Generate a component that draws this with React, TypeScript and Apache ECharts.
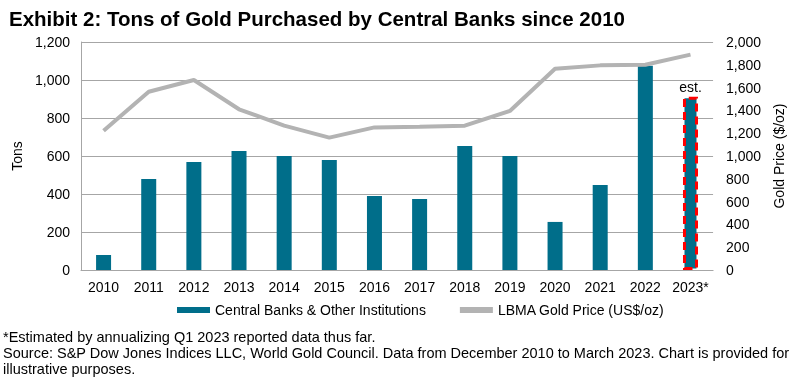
import React, { useEffect, useRef } from "react";
import * as echarts from "echarts";

const categories = ["2010", "2011", "2012", "2013", "2014", "2015", "2016", "2017", "2018", "2019", "2020", "2021", "2022", "2023*"];
const centralBankTons = [79, 479, 568, 626, 600, 579, 389, 374, 653, 600, 253, 447, 1075, 912];
const goldPrice = [1222, 1564, 1667, 1410, 1266, 1161, 1251, 1257, 1266, 1395, 1766, 1795, 1801, 1889];
const leftTicks = { min: 0, max: 1200, interval: 200 };
const rightTicks = { min: 0, max: 2000, interval: 200 };
const titleText = "Exhibit 2: Tons of Gold Purchased by Central Banks since 2010";
const footnotes = [
  "*Estimated by annualizing Q1 2023 reported data thus far.",
  "Source: S&P Dow Jones Indices LLC, World Gold Council. Data from December 2010 to March 2023. Chart is provided for",
  "illustrative purposes.",
];
const barName = "Central Banks & Other Institutions";
const lineName = "LBMA Gold Price (US$/oz)";
const estLabel = "est.";

const FONT = "'Liberation Sans', Arial, sans-serif";

export default function App() {
  const ref = useRef<HTMLDivElement>(null);
  useEffect(() => {
    if (!ref.current) return;
    const chart = echarts.init(ref.current, null, { renderer: "svg" });
    const fmt = (v: number) => v.toLocaleString("en-US");
    const barData = centralBankTons.map((v, i) =>
      i === centralBankTons.length - 1
        ? {
            value: v,
            itemStyle: {
              color: "#006E8A",
              borderColor: "#FF0000",
              borderWidth: 3,
              borderType: [8, 5],
            },
            label: {
              show: true,
              position: "top",
              distance: 3,
              formatter: estLabel,
              color: "#000",
              fontSize: 14,
              fontFamily: FONT,
            },
          }
        : v
    );
    chart.setOption({
      animation: false,
      textStyle: { fontFamily: FONT },
      title: {
        text: titleText,
        left: 4,
        top: 3,
        textStyle: { fontSize: 20.5, fontWeight: "bold", color: "#000", fontFamily: FONT },
      },
      grid: { left: 81, right: 73, top: 42, bottom: 115, containLabel: false },
      legend: {
        left: 172,
        top: 298,
        itemGap: 34,
        itemWidth: 33,
        itemHeight: 6,
        textStyle: { fontSize: 14, color: "#000", fontFamily: FONT },
        data: [
          { name: barName, icon: "rect", itemStyle: { color: "#006E8A" } },
          { name: lineName, icon: "rect", itemStyle: { color: "#B3B3B3" } },
        ],
      },
      xAxis: {
        type: "category",
        data: categories,
        axisLine: { lineStyle: { color: "#A6A6A6", width: 1 } },
        axisTick: { show: false },
        axisLabel: { color: "#000", fontSize: 14, margin: 10, interval: 0 },
      },
      yAxis: [
        {
          type: "value",
          min: leftTicks.min,
          max: leftTicks.max,
          interval: leftTicks.interval,
          name: "Tons",
          nameLocation: "middle",
          nameGap: 44,
          nameRotate: 90,
          nameTextStyle: { color: "#000", fontSize: 14 },
          axisLine: { show: true, lineStyle: { color: "#A6A6A6", width: 1 } },
          axisTick: { show: false },
          axisLabel: { color: "#000", fontSize: 14, margin: 11, formatter: fmt },
          splitLine: { lineStyle: { color: "#A6A6A6", width: 1 } },
        },
        {
          type: "value",
          min: rightTicks.min,
          max: rightTicks.max,
          interval: rightTicks.interval,
          name: "Gold Price ($/oz)",
          nameLocation: "middle",
          nameGap: 58,
          nameRotate: 90,
          nameTextStyle: { color: "#000", fontSize: 14 },
          axisLine: { show: false },
          axisTick: { show: false },
          axisLabel: { color: "#000", fontSize: 14, margin: 13, formatter: fmt },
          splitLine: { show: false },
        },
      ],
      series: [
        {
          name: barName,
          type: "bar",
          yAxisIndex: 0,
          barWidth: 15,
          itemStyle: { color: "#006E8A" },
          data: barData,
        },
        {
          name: lineName,
          type: "line",
          yAxisIndex: 1,
          data: goldPrice,
          symbol: "none",
          lineStyle: { color: "#B3B3B3", width: 4 },
          itemStyle: { color: "#B3B3B3" },
        },
      ],
      graphic: footnotes.map((t, i) => ({
        type: "text",
        left: 3,
        top: 329 + i * 16,
        style: { text: t, fontSize: 14.5, fill: "#000", fontFamily: FONT },
      })),
    });
    return () => chart.dispose();
  }, []);
  return <div ref={ref} style={{ width: 794, height: 385, position: "fixed", left: 0, top: 0 }} />;
}
